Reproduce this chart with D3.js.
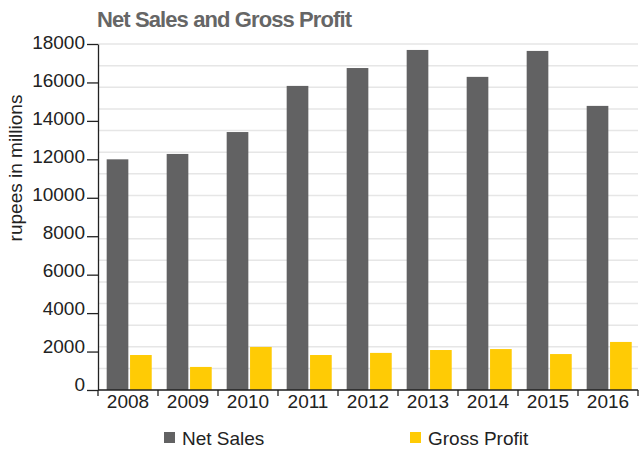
<!DOCTYPE html>
<html>
<head>
<meta charset="utf-8">
<script src="https://cdn.jsdelivr.net/npm/d3@7"></script>
<style>
  body { margin: 0; background: #fff; }
  svg text { font-family: "Liberation Sans", Arial, Helvetica, sans-serif; }
</style>
</head>
<body>
<svg id="chart" width="643" height="452"></svg>
<script>
var years = ["2008", "2009", "2010", "2011", "2012", "2013", "2014", "2015", "2016"];
var seriesNames = ["Net Sales", "Gross Profit"];
var netSales = [12000, 12280, 13420, 15820, 16750, 17690, 16290, 17640, 14780];
var grossProfit = [1820, 1200, 2240, 1820, 1930, 2080, 2130, 1870, 2500];
var yTicks = [0, 2000, 4000, 6000, 8000, 10000, 12000, 14000, 16000, 18000];

(function BarSales() {
    var svg = d3.select("#chart"),
        left = 98, right = 638, top = 44, bottom = 390;

    var color = d3.scaleOrdinal().domain(seriesNames).range(["#626263", "#ffcb05"]);

    var x0 = d3.scaleBand().domain(years).range([left, right]).padding(0);

    var x1 = d3.scaleBand().domain(seriesNames)
               .range([0, x0.bandwidth()])
               .paddingInner(0.073)
               .paddingOuter(0.32)
               .align(0.58);

    var y = d3.scaleLinear().domain([0, 18000]).range([bottom, top]);

    // light grid, 16 even steps over the domain
    svg.append("g")
       .selectAll("line")
       .data(d3.range(0, 18001, 18000 / 16))
       .enter().append("line")
       .attr("x1", left).attr("x2", right)
       .attr("y1", function(d) { return y(d); })
       .attr("y2", function(d) { return y(d); })
       .attr("stroke", "#e6e6e6")
       .attr("stroke-width", 1.5);

    var rows = years.map(function(yr, i) {
        return { year: yr, values: [netSales[i], grossProfit[i]] };
    });

    var group = svg.selectAll(".year")
                   .data(rows)
                   .enter().append("g")
                   .attr("class", "year")
                   .attr("transform", function(d) { return "translate(" + x0(d.year) + ",0)"; });

    group.selectAll("rect")
         .data(function(d) { return d.values.map(function(v, j) { return { name: seriesNames[j], value: v }; }); })
         .enter().append("rect")
         .attr("x", function(d) { return x1(d.name); })
         .attr("width", x1.bandwidth())
         .attr("y", function(d) { return y(d.value); })
         .attr("height", function(d) { return y(0) - y(d.value); })
         .attr("fill", function(d) { return color(d.name); });

    // y axis
    var yAxis = svg.append("g")
       .attr("transform", "translate(" + left + ",0)")
       .call(d3.axisLeft(y).tickValues(yTicks).tickSize(11).tickSizeOuter(0).tickPadding(2)
               .tickFormat(d3.format("d")));
    yAxis.selectAll("path, line").attr("stroke", "#222").attr("stroke-width", 1.3);
    yAxis.selectAll("text")
         .attr("dy", 0)
         .attr("y", function(d) { return 4.5 * d / 18000; })
         .attr("font-size", 19)
         .attr("fill", "#222");

    // x axis: labels centred, ticks on band edges
    var xAxis = svg.append("g")
       .attr("transform", "translate(0," + bottom + ")")
       .call(d3.axisBottom(x0).tickSize(0).tickPadding(4.5));
    xAxis.select(".domain").remove();
    xAxis.selectAll("text").attr("font-size", 19).attr("fill", "#222");

    xAxis.append("line")
         .attr("x1", left).attr("x2", right)
         .attr("stroke", "#222").attr("stroke-width", 1.3);

    xAxis.selectAll(".edge")
         .data(years.concat(["end"]))
         .enter().append("line")
         .attr("class", "edge")
         .attr("x1", function(d) { return d === "end" ? right : x0(d); })
         .attr("x2", function(d) { return d === "end" ? right : x0(d); })
         .attr("y1", 0).attr("y2", 6)
         .attr("stroke", "#222").attr("stroke-width", 1.3);

    // titles
    svg.append("text")
       .attr("x", 97).attr("y", 27)
       .attr("font-size", 22).attr("font-weight", "bold")
       .attr("letter-spacing", -0.9)
       .attr("fill", "#666")
       .text("Net Sales and Gross Profit");

    svg.append("text")
       .attr("transform", "rotate(-90)")
       .attr("x", -168).attr("y", 22)
       .attr("text-anchor", "middle")
       .attr("font-size", 19)
       .attr("fill", "#222")
       .text("rupees in millions");

    // legend
    var legendX = [164, 410];
    var legend = svg.selectAll(".legend")
                    .data(seriesNames)
                    .enter().append("g")
                    .attr("class", "legend")
                    .attr("transform", function(d, i) { return "translate(" + legendX[i] + ",432)"; });

    legend.append("rect")
          .attr("width", 11).attr("height", 11)
          .attr("fill", function(d) { return color(d); });

    legend.append("text")
          .attr("x", 18).attr("y", 13)
          .attr("font-size", 19)
          .attr("fill", "#222")
          .text(function(d) { return d; });
}());
</script>
</body>
</html>
